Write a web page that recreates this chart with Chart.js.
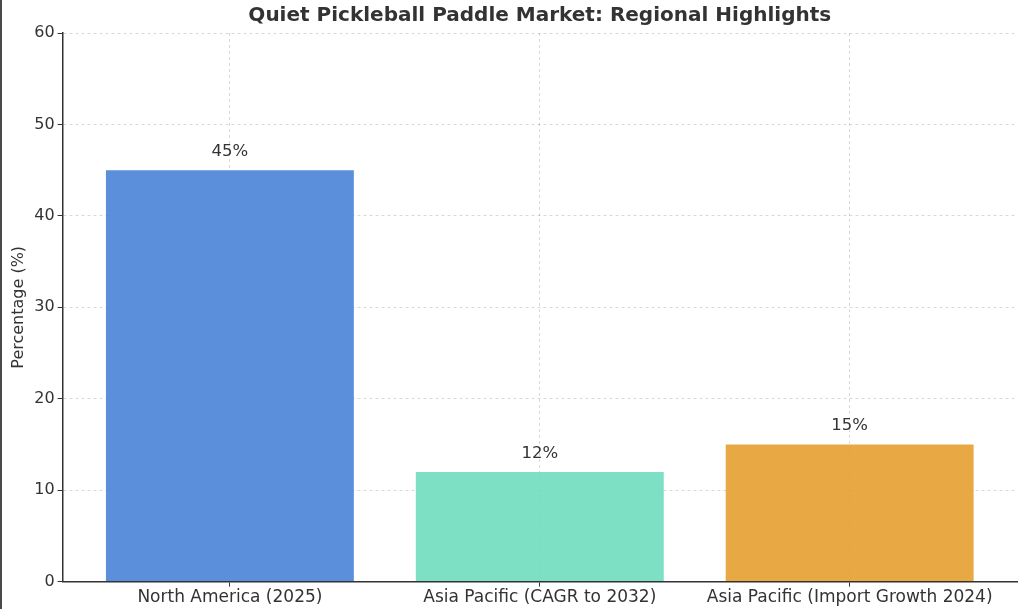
<!DOCTYPE html>
<html>
<head>
<meta charset="utf-8">
<script src="https://cdn.jsdelivr.net/npm/chart.js@4.4.1/dist/chart.umd.min.js"></script>
<style>
  html, body { margin: 0; padding: 0; background: #fff; }
  #wrap { position: relative; width: 1024px; height: 609px; }
  #edge { position: absolute; left: 0; top: 0; width: 2px; height: 609px; background: #4a4a4a; }
</style>
</head>
<body>
<div id="wrap">
  <canvas id="grafica" width="1024" height="609"></canvas>
  <div id="edge"></div>
</div>
<script>
// Datos del grafico
const categorias = ['North America (2025)', 'Asia Pacific (CAGR to 2032)', 'Asia Pacific (Import Growth 2024)'];
const valores = [45, 12, 15];
const colores = ['rgba(73,131,216,0.9)', 'rgba(111,219,188,0.9)', 'rgba(229,159,48,0.9)'];
const ticksY = [0, 10, 20, 30, 40, 50, 60];

const textoColor = '#333';
const fuente = '"DejaVu Sans", sans-serif';

// Titulo centrado sobre el area del grafico (como matplotlib)
const tituloPlugin = {
    id: 'titulo',
    afterDraw(chart) {
        const ctx = chart.ctx;
        const a = chart.chartArea;
        ctx.save();
        ctx.font = 'bold 20px ' + fuente;
        ctx.fillStyle = textoColor;
        ctx.textAlign = 'center';
        ctx.textBaseline = 'middle';
        ctx.fillText('Quiet Pickleball Paddle Market: Regional Highlights', (a.left + a.right) / 2, 16);
        ctx.restore();
    }
};

// Etiquetas de porcentaje encima de cada barra
const etiquetasPlugin = {
    id: 'etiquetas',
    afterDatasetsDraw(chart) {
        const ctx = chart.ctx;
        const meta = chart.getDatasetMeta(0);
        ctx.save();
        ctx.font = '16.5px ' + fuente;
        ctx.fillStyle = textoColor;
        ctx.textAlign = 'center';
        ctx.textBaseline = 'bottom';
        meta.data.forEach((bar, i) => {
            ctx.fillText(valores[i] + '%', bar.x, bar.y - 10);
        });
        ctx.restore();
    }
};

const config = {
    type: 'bar',
    data: {
        datasets: [{
            data: valores.map((v, i) => ({ x: i, y: v })),
            backgroundColor: colores,
            borderWidth: 0,
            categoryPercentage: 1,
            barPercentage: 0.8
        }]
    },
    options: {
        responsive: false,
        animation: false,
        layout: { padding: { top: 33, right: 7, left: 9, bottom: 0 } },
        plugins: { legend: { display: false }, tooltip: { enabled: false }, title: { display: false } },
        scales: {
            x: {
                type: 'linear',
                min: -0.54,
                max: 2.54,
                offset: false,
                afterBuildTicks(axis) { axis.ticks = [0, 1, 2].map(v => ({ value: v })); },
                ticks: {
                    callback: v => categorias[v],
                    color: textoColor,
                    font: { family: fuente, size: 17 },
                    maxRotation: 0,
                    autoSkip: false,
                    padding: 1
                },
                grid: {
                    offset: false,
                    color: 'rgba(0,0,0,0.15)',
                    tickColor: '#333',
                    tickBorderDash: [],
                    tickLength: 5,
                    drawTicks: true
                },
                border: { display: true, color: '#333', width: 1.5, dash: [3, 3] }
            },
            y: {
                min: 0,
                max: 60,
                afterBuildTicks(axis) { axis.ticks = ticksY.map(v => ({ value: v })); },
                ticks: {
                    color: textoColor,
                    font: { family: fuente, size: 16 },
                    padding: 3
                },
                title: {
                    display: true,
                    text: 'Percentage (%)',
                    color: textoColor,
                    font: { family: fuente, size: 16 },
                    padding: { top: 0, bottom: 3 }
                },
                grid: {
                    color: 'rgba(0,0,0,0.15)',
                    tickColor: '#333',
                    tickBorderDash: [],
                    tickLength: 5
                },
                border: { display: true, color: '#333', width: 1.5, dash: [3, 3] }
            }
        }
    },
    plugins: [tituloPlugin, etiquetasPlugin]
};

var grafica = new Chart(document.getElementById('grafica'), config);
</script>
</body>
</html>
